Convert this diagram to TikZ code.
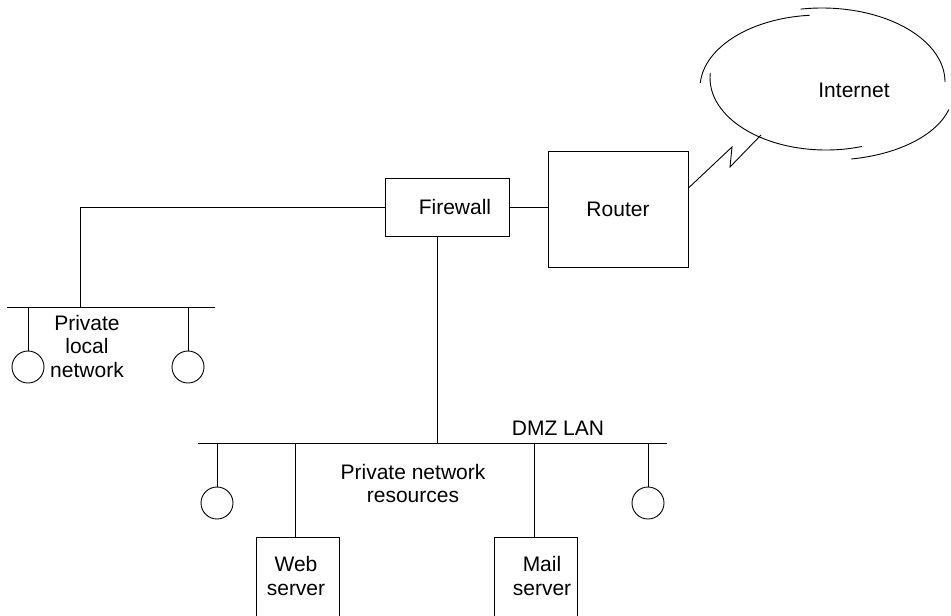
\documentclass[tikz,border=0pt]{standalone}
\usepackage{fontspec}
\setmainfont{Liberation Sans}
\begin{document}
\begin{tikzpicture}[x=1pt,y=-1pt,
  every node/.style={font=\fontsize{21}{23.5}\selectfont},
  ln/.style={draw=black,line width=0.9pt},
  boxn/.style={draw=black,line width=0.9pt,rectangle,inner sep=0pt},
  host/.style={draw=black,line width=0.9pt,circle,minimum size=32pt,inner sep=0pt},
  txt/.style={inner sep=0pt,align=center}]
\useasboundingbox (0,0) rectangle (951,616);
\clip (0,0) rectangle (951,616);

% boxes
\node[boxn,minimum width=124pt,minimum height=58pt] (firewall) at (447,207) {\hspace*{16pt}Firewall};
\node[boxn,minimum width=140pt,minimum height=116pt] (router) at (618,209) {Router};
\node[boxn,minimum width=83pt,minimum height=106pt] (web) at (297.5,590) {};
\node[boxn,minimum width=83pt,minimum height=106pt] (mail) at (535.5,590) {};
\node[txt] (webtxt) at (296,576) {Web\\server};
\node[txt] (mailtxt) at (542,576) {Mail\\server};

% hosts
\node[host] (h1) at (28,367) {};
\node[host] (h2) at (188,367) {};
\node[host] (h3) at (217,503) {};
\node[host] (h4) at (648,503) {};

% bus coordinates
\coordinate (lanL) at (7,307);
\coordinate (lanR) at (215,307);
\coordinate (lantap) at (80,307);
\coordinate (dmzL) at (198,443);
\coordinate (dmzR) at (667,443);
\coordinate (dmztap) at (437,443);

\draw[ln] (lanL) -- (lanR);
\draw[ln] (dmzL) -- (dmzR);

% connectors
\draw[ln] (firewall.west) -| (lantap);
\draw[ln] (firewall.east) -- (router.west |- firewall.east);
\draw[ln] (dmztap |- firewall.south) -- (dmztap);
\draw[ln] (h1.north |- lanL) -- (h1.north);
\draw[ln] (h2.north |- lanL) -- (h2.north);
\draw[ln] (h3.north |- dmzL) -- (h3.north);
\draw[ln] (h4.north |- dmzL) -- (h4.north);
\draw[ln] (295,443) -- (web.north -| 295,0);
\draw[ln] (534,443) -- (mail.north -| 534,0);

% labels
\node[txt] (lantxt) at (87,346) {Private\\local\\network};
\node[txt] (restxt) at (413,483.5) {Private network\\resources};
\node[txt,anchor=base] (dmztxt) at (558,435) {DMZ LAN};

% internet cloud
\coordinate (cloudpt) at (761,135);
\draw[ln] (router.east |- 0,188) -- (732,147) -- (730,167) -- (cloudpt);
\draw[ln] ([shift={(184:120 and 73)}]820,88) arc[start angle=184,end angle=265,x radius=120,y radius=73];
\draw[ln] ([shift={(260:123 and 74)}]822,82) arc[start angle=260,end angle=360,x radius=123,y radius=74];
\draw[ln] ([shift={(15:123 and 68)}]830,92) arc[start angle=15,end angle=80,x radius=123,y radius=68];
\draw[ln] ([shift={(72:116 and 72)}]826,78) arc[start angle=72,end angle=184,x radius=116,y radius=72];
\node[txt,anchor=base] (inet) at (854,97) {Internet};
\end{tikzpicture}
\end{document}
